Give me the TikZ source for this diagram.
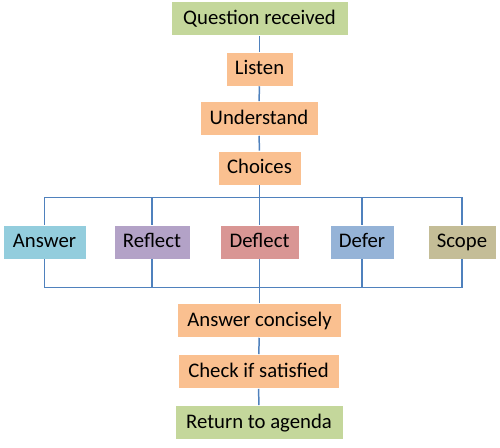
\documentclass[tikz,border=0pt]{standalone}
\usepackage{fontspec}
\setmainfont{Carlito}
\usepackage{tikz}
\usetikzlibrary{positioning, calc}

\definecolor{stepgreen}{HTML}{C4D79B}
\definecolor{steporange}{HTML}{FAC090}
\definecolor{ansblue}{HTML}{93CDDD}
\definecolor{refpurple}{HTML}{B3A2C7}
\definecolor{defred}{HTML}{D99694}
\definecolor{deferblue}{HTML}{95B3D7}
\definecolor{scopetan}{HTML}{C4BD97}
\definecolor{linkblue}{HTML}{4F81BD}

\tikzset{
    box/.style={rectangle, draw=white, line width=0.3pt, minimum height=0.68cm, inner sep=0pt,
        text height=0.8em, text depth=0.16em, font=\fontsize{11.8}{13}\selectfont},
    link/.style={draw=linkblue, line width=0.85pt}
}

\begin{document}
\begin{tikzpicture}[x=0.02cm, y=-0.02cm]
    \useasboundingbox (0,0) rectangle (500,448);

    % Nodes down the middle
    \node[box, fill=stepgreen, minimum width=3.54cm] (qrec) at (259.5,18.5) {Question received};
    \node[box, fill=steporange, minimum width=1.34cm] (listen) at (259.5,69) {Listen};
    \node[box, fill=steporange, minimum width=2.36cm] (understand) at (259,118.5) {Understand};
    \node[box, fill=steporange, minimum width=1.66cm] (choices) at (259.5,168) {Choices};

    % Nodes for the five choices
    \node[box, fill=ansblue, minimum width=1.66cm] (answer) at (44.5,242) {Answer};
    \node[box, fill=refpurple, minimum width=1.52cm] (reflect) at (152,242) {Reflect};
    \node[box, fill=defred, minimum width=1.58cm] (deflect) at (259.5,242) {Deflect};
    \node[box, fill=deferblue, minimum width=1.28cm] (defer) at (362,242) {Defer};
    \node[box, fill=scopetan, minimum width=1.36cm] (scope) at (462,242) {Scope};

    % Nodes after the choices
    \node[box, fill=steporange, minimum width=3.28cm] (concise) at (259.5,320.5) {Answer concisely};
    \node[box, fill=steporange, minimum width=3.22cm] (check) at (258.5,371.5) {Check if satisfied};
    \node[box, fill=stepgreen, minimum width=3.36cm] (agenda) at (259,422.5) {Return to agenda};

    % Points where the lines split and join
    \coordinate (split) at (259.5,197.5);
    \coordinate (join) at (259.5,287.5);

    % Edges
    \draw[link] (qrec) -- (listen);
    \draw[link] (listen) -- (understand);
    \draw[link] (understand) -- (choices);
    \draw[link] (choices) -- (split);
    \foreach \c in {answer, reflect, deflect, defer, scope} {
        \draw[link] (\c) |- (split);
        \draw[link] (\c) |- (join);
    }
    \draw[link] (join) -- (concise);
    \draw[link] (concise) -- (check);
    \draw[link] (check) -- (agenda);
\end{tikzpicture}
\end{document}
